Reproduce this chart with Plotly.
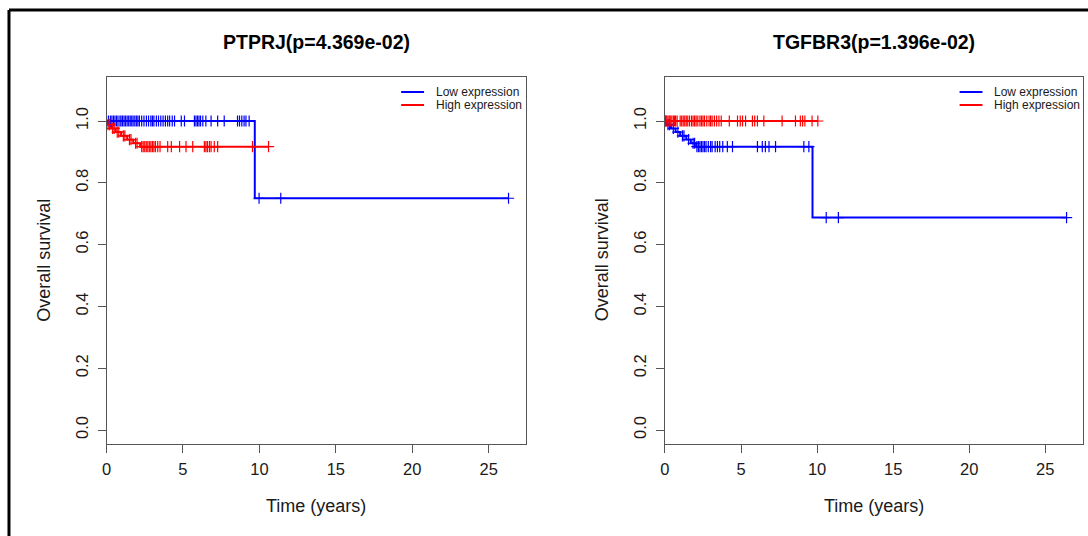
import numpy as np
import plotly.graph_objects as go

# ---------------- data ----------------
titles = ["PTPRJ(p=4.369e-02)", "TGFBR3(p=1.396e-02)"]
legend_names = ["Low expression", "High expression"]
x_ticks = [0, 5, 10, 15, 20, 25]
y_ticks = [0.0, 0.2, 0.4, 0.6, 0.8, 1.0]
y_ticklabels = ["0.0", "0.2", "0.4", "0.6", "0.8", "1.0"]

# PTPRJ - Low expression (blue)
ptprj_low_event_t = [9.7]
ptprj_low_event_s = [0.75]
ptprj_low_end = 26.3
ptprj_low_cens = [0.12, 0.25, 0.35, 0.45, 0.55, 0.65, 0.75, 0.88, 0.95, 1.05, 1.15, 1.25,
                  1.35, 1.45, 1.55, 1.65, 1.74, 1.85, 1.95, 2.05, 2.15, 2.3, 2.45, 2.61,
                  2.75, 2.9, 3.0, 3.1, 3.26, 3.4, 3.55, 3.7, 3.85, 4.0, 4.13, 4.3, 4.45,
                  4.89, 5.1, 5.75, 5.85, 5.95, 6.05, 6.15, 6.3, 6.5, 6.84, 7.27, 7.7,
                  8.57, 8.7, 8.85, 9.0, 9.12, 9.33, 9.98, 11.4, 26.3]

# PTPRJ - High expression (red)
ptprj_high_event_t = [0.05, 0.3, 0.6, 0.95, 1.35, 1.75, 2.2]
ptprj_high_event_s = [0.988, 0.976, 0.964, 0.952, 0.940, 0.928, 0.917]
ptprj_high_end = 10.6
ptprj_high_cens = [0.1, 0.2, 0.4, 0.5, 0.7, 0.8, 1.1, 1.2, 1.5, 1.6, 1.9, 2.0,
                   2.3, 2.4, 2.5, 2.6, 2.7, 2.8, 2.9, 3.0, 3.1, 3.2, 3.35, 3.5,
                   4.0, 4.24, 4.78, 5.2, 5.64, 6.4, 6.5, 6.6, 6.73, 6.84, 7.05, 7.27,
                   9.55, 10.6]

# TGFBR3 - Low expression (blue)
tgfbr3_low_event_t = [0.1, 0.4, 0.7, 1.0, 1.4, 1.7, 2.05, 9.7]
tgfbr3_low_event_s = [0.988, 0.976, 0.964, 0.952, 0.940, 0.928, 0.917, 0.6875]
tgfbr3_low_end = 26.4
tgfbr3_low_cens = [0.05, 0.2, 0.3, 0.55, 0.85, 1.15, 1.25, 1.55, 1.85, 1.95,
                   2.1, 2.2, 2.3, 2.4, 2.5, 2.6, 2.7, 2.85, 3.0, 3.1, 3.3, 3.45,
                   3.6, 3.8, 4.1, 4.44, 6.08, 6.4, 6.6, 6.84, 7.27, 9.13, 9.46,
                   10.6, 11.4, 26.4]

# TGFBR3 - High expression (red)
tgfbr3_high_event_t = []
tgfbr3_high_event_s = []
tgfbr3_high_end = 10.05
tgfbr3_high_cens = [0.05, 0.12, 0.2, 0.28, 0.35, 0.45, 0.55, 0.62, 0.7, 0.8, 1.0, 1.1,
                    1.2, 1.3, 1.4, 1.5, 1.62, 1.75, 1.85, 1.95, 2.05, 2.16, 2.3, 2.4,
                    2.5, 2.6, 2.75, 2.9, 3.0, 3.1, 3.25, 3.4, 3.55, 3.7, 4.23, 4.77,
                    4.95, 5.1, 5.3, 5.75, 5.9, 6.08, 6.5, 7.7, 8.58, 8.9, 9.05, 9.2,
                    9.67, 10.05]

BLUE = "#0000FF"
RED = "#FF0000"
FONT = "Liberation Sans, Arial, Helvetica, sans-serif"
AXC = "#555555"
TXT = "#1a1a1a"


def curve(ev_t, ev_s, end):
    xs = [0.0] + list(ev_t) + [end]
    ys = [1.0] + list(ev_s) + [ev_s[-1] if ev_s else 1.0]
    return xs, ys


def surv_at(ev_t, ev_s, t):
    t = np.asarray(t, dtype=float)
    levels = np.array([1.0] + list(ev_s))
    idx = np.searchsorted(np.asarray(ev_t, dtype=float), t, side="right")
    return levels[idx]


panels = [
    [(ptprj_low_event_t, ptprj_low_event_s, ptprj_low_end, ptprj_low_cens, BLUE),
     (ptprj_high_event_t, ptprj_high_event_s, ptprj_high_end, ptprj_high_cens, RED)],
    [(tgfbr3_low_event_t, tgfbr3_low_event_s, tgfbr3_low_end, tgfbr3_low_cens, BLUE),
     (tgfbr3_high_event_t, tgfbr3_high_event_s, tgfbr3_high_end, tgfbr3_high_cens, RED)],
]
colors = [BLUE, RED]

W, H = 1088, 536
X_OFF = -4  # compensates a constant horizontal offset seen in the rendered page
px = lambda v: (v + X_OFF) / W
py = lambda v: 1 - v / H

xdomains = [[px(106), px(527.5)], [px(667), px(1086.5)]]
ydomain = [py(443.6), py(76.5)]

fig = go.Figure()

for i, panel in enumerate(panels):
    xa = "x" if i == 0 else "x2"
    ya = "y" if i == 0 else "y2"
    for j, (et, es, end, cens, col) in enumerate(panel):
        xs, ys = curve(et, es, end)
        fig.add_trace(go.Scatter(
            x=xs, y=ys, mode="lines", line=dict(color=col, width=2, shape="hv"),
            name=legend_names[j], xaxis=xa, yaxis=ya, showlegend=False,
            hoverinfo="skip"))
    for j, (et, es, end, cens, col) in enumerate(panel):
        fig.add_trace(go.Scatter(
            x=cens, y=surv_at(et, es, cens), mode="markers",
            marker=dict(symbol="cross-thin", size=8, line=dict(color=col, width=1.2)),
            xaxis=xa, yaxis=ya, showlegend=False, hoverinfo="skip"))

axis_common = dict(showgrid=False, zeroline=False, showline=True, mirror=True,
                   linecolor=AXC, linewidth=1, ticks="outside", ticklen=8,
                   tickcolor=AXC, tickwidth=1, ticklabelstandoff=3,
                   tickfont=dict(family=FONT, size=16.5, color=TXT))

for i in range(2):
    sfx = "" if i == 0 else "2"
    fig.update_layout(**{
        "xaxis" + sfx: dict(domain=xdomains[i], range=[0, 27.45], tickvals=x_ticks,
                            anchor="y" + sfx, **axis_common),
        "yaxis" + sfx: dict(domain=ydomain, range=[-0.044, 1.144], tickvals=y_ticks,
                            ticktext=y_ticklabels, tickangle=-90,
                            anchor="x" + sfx, **axis_common),
    })

annotations = []
shapes = [
    dict(type="line", xref="paper", yref="paper", x0=px(8), x1=1.02,
         y0=py(10), y1=py(10), line=dict(color="black", width=3)),
    dict(type="line", xref="paper", yref="paper", x0=px(8), x1=px(8),
         y0=py(10), y1=-0.02, line=dict(color="black", width=3)),
]
legend_line_x = [(402, 425, 435), (963, 986, 996)]
legend_rows = [92, 105]

for i in range(2):
    cx = (xdomains[i][0] + xdomains[i][1]) / 2
    annotations.append(dict(text="<b>" + titles[i] + "</b>", x=cx, y=py(42),
                            xref="paper", yref="paper", showarrow=False,
                            font=dict(family=FONT, size=19.5, color="#000000"),
                            xanchor="center", yanchor="middle"))
    annotations.append(dict(text="Time (years)", x=cx, y=py(506),
                            xref="paper", yref="paper", showarrow=False,
                            font=dict(family=FONT, size=18, color=TXT),
                            xanchor="center", yanchor="middle"))
    annotations.append(dict(text="Overall survival", x=px(43 if i == 0 else 604),
                            y=(ydomain[0] + ydomain[1]) / 2,
                            xref="paper", yref="paper", showarrow=False, textangle=-90,
                            font=dict(family=FONT, size=18, color=TXT),
                            xanchor="center", yanchor="middle"))
    lx0, lx1, tx = legend_line_x[i]
    for j in range(2):
        shapes.append(dict(type="line", xref="paper", yref="paper",
                           x0=px(lx0), x1=px(lx1), y0=py(legend_rows[j]),
                           y1=py(legend_rows[j]), line=dict(color=colors[j], width=2)))
        annotations.append(dict(text=legend_names[j], x=px(tx), y=py(legend_rows[j]),
                                xref="paper", yref="paper", showarrow=False,
                                font=dict(family=FONT, size=12, color=TXT),
                                xanchor="left", yanchor="middle"))

fig.update_layout(
    width=W, height=H, autosize=False,
    margin=dict(l=0, r=0, t=0, b=0),
    paper_bgcolor="white", plot_bgcolor="white",
    annotations=annotations,
    shapes=shapes,
    showlegend=False,
)

fig.write_html(
    "out.html",
    config={"displayModeBar": False, "responsive": False},
    post_script=(
        "document.body.style.margin='0';document.body.style.padding='0';"
        "document.documentElement.style.overflow='hidden';"
        "var d=document.getElementById('{plot_id}');"
        "d.style.position='fixed';d.style.left='0px';d.style.top='0px';"
    ),
)
